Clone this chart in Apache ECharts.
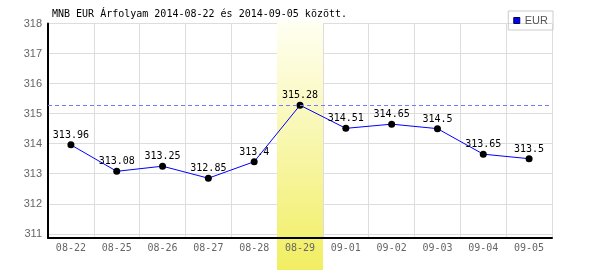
<!DOCTYPE html>
<html>
<head>
<meta charset="utf-8">
<script src="https://cdn.jsdelivr.net/npm/echarts@6/dist/echarts.min.js"></script>
<style>html,body{margin:0;padding:0;background:#fff}#c{width:600px;height:270px}</style>
</head>
<body>
<div id="c"></div>
<script>
var titleText = 'MNB EUR Árfolyam 2014-08-22 és 2014-09-05 között.';
var seriesName = 'EUR';
var categories = ['08-22','08-25','08-26','08-27','08-28','08-29','09-01','09-02','09-03','09-04','09-05'];
var values = [313.96, 313.08, 313.25, 312.85, 313.4, 315.28, 314.51, 314.65, 314.5, 313.65, 313.5];
var highlightCategory = '08-29';
var yMin = 310.86, yMax = 318;

var chart = echarts.init(document.getElementById('c'), null, {renderer: 'canvas'});
var mono = 'DejaVu Sans Mono';
var sans = 'Liberation Sans';
chart.setOption({
  animation: false,
  backgroundColor: '#ffffff',
  title: {
    text: titleText, left: 52, top: 9, padding: 0,
    textStyle: {fontFamily: mono, fontSize: 10, fontWeight: 'normal', color: '#000'}
  },
  legend: {
    data: [seriesName], right: 47, top: 11, orient: 'vertical',
    icon: 'rect', itemWidth: 6, itemHeight: 6, itemGap: 0,
    padding: [4, 5, 4, 5], borderColor: '#cccccc', borderWidth: 1,
    textStyle: {fontFamily: sans, fontSize: 11, color: '#555'},
    itemStyle: {color: '#0000ff', borderColor: '#000044', borderWidth: 1}
  },
  grid: {left: 48, right: 48, top: 23.5, bottom: 32, containLabel: false},
  xAxis: [{
    type: 'category', data: categories, boundaryGap: true, z: 0,
    axisLine: {show: false}, axisTick: {show: false}, axisLabel: {show: false},
    splitLine: {show: true, interval: 0, lineStyle: {color: '#dddddd', width: 1}}
  }, {
    type: 'category', data: categories, boundaryGap: true, z: 4, position: 'bottom',
    axisLine: {show: true, lineStyle: {color: '#000', width: 2}},
    axisTick: {show: false},
    axisLabel: {show: true, interval: 0, margin: 5, color: '#666', fontFamily: mono, fontSize: 10},
    splitLine: {show: false}
  }],
  yAxis: {
    type: 'value', min: yMin, max: yMax, splitNumber: 7, minInterval: 1, maxInterval: 1, z: 0,
    axisLine: {show: true, lineStyle: {color: '#000', width: 2}},
    axisTick: {show: false},
    axisLabel: {showMinLabel: false, margin: 6, color: '#666', fontFamily: sans, fontSize: 11},
    splitLine: {show: true, lineStyle: {color: '#dddddd', width: 1}}
  },
  series: [{
    name: 'maxline', type: 'line', data: values, z: 0, silent: true,
    showSymbol: false, symbol: 'none', lineStyle: {opacity: 0},
    markLine: {
      silent: true, symbol: 'none', label: {show: false},
      lineStyle: {color: '#7777ff', type: [4, 3], width: 1, opacity: 1},
      data: [{type: 'max', lineStyle: {color: '#7777ff', opacity: 1}}]
    }
  }, {
    name: seriesName, type: 'line', data: values, z: 3, xAxisIndex: 0,
    symbol: 'circle', symbolSize: 7, showAllSymbol: true,
    itemStyle: {color: '#000'},
    lineStyle: {color: '#0000ff', width: 1},
    label: {show: true, position: 'top', distance: 1, color: '#000', fontFamily: mono, fontSize: 10}
  }],
  color: ['#7777ff', '#0000ff']
});

function drawBand() {
  var idx = categories.indexOf(highlightCategory);
  var c0 = chart.convertToPixel({xAxisIndex: 0}, categories[0]);
  var c1 = chart.convertToPixel({xAxisIndex: 0}, categories[1]);
  var w = c1 - c0;
  var cx = chart.convertToPixel({xAxisIndex: 0}, categories[idx]);
  var topY = chart.convertToPixel({yAxisIndex: 0}, yMax) - 3.5;
  var h = chart.getHeight() - topY;
  chart.setOption({
    graphic: [{
      type: 'rect', z: 1, silent: true,
      shape: {x: Math.round(cx - w / 2), y: topY, width: Math.round(w), height: h},
      style: {
        fill: new echarts.graphic.LinearGradient(0, 0, 0, 1, [
          {offset: 0, color: '#fffff4'},
          {offset: 1, color: '#f1ee62'}
        ])
      }
    }]
  });
}
drawBand();
</script>
</body>
</html>
